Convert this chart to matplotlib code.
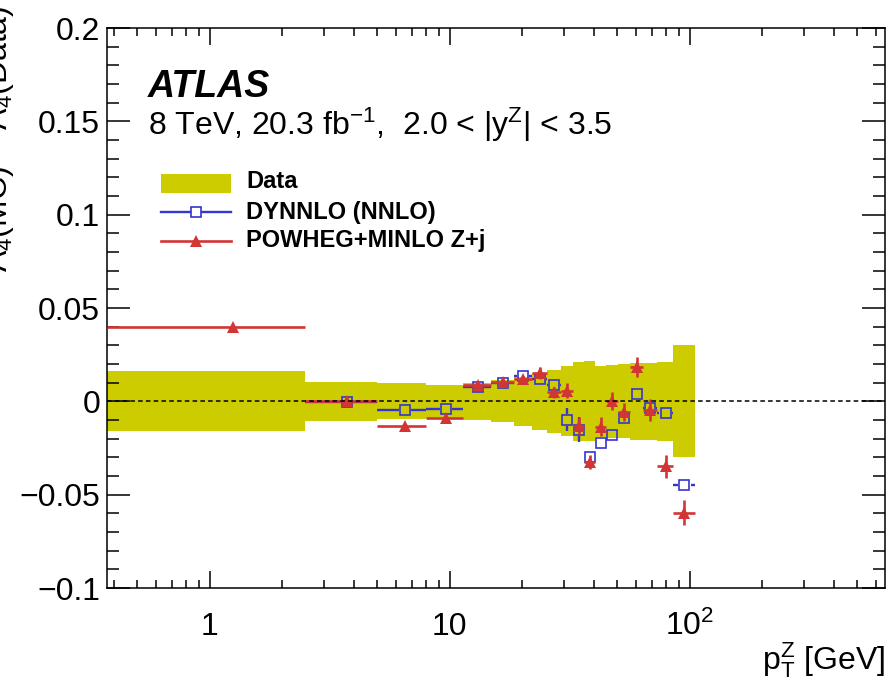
import numpy as np
import matplotlib
matplotlib.use("Agg")
import matplotlib.pyplot as plt
from matplotlib.ticker import FixedLocator, FixedFormatter, LogLocator, NullFormatter, MultipleLocator
from matplotlib.patches import Rectangle
from matplotlib.lines import Line2D
from matplotlib.collections import LineCollection

# ---------------- data ----------------
# pT(Z) bin edges [GeV]
bin_edges = [0.0, 2.5, 5.0, 8.0, 11.4, 14.9, 18.5, 22.0, 25.5, 29.0, 32.6,
             36.4, 40.4, 44.9, 50.2, 56.4, 63.9, 73.4, 85.4, 105.0]

# total uncertainty of the measured A4 (half width of the band)
data_unc = [0.016, 0.0105, 0.0097, 0.0090, 0.0098, 0.0112, 0.0132, 0.0152,
            0.0170, 0.0187, 0.0210, 0.0215, 0.0190, 0.0195, 0.0198, 0.0205,
            0.0205, 0.0210, 0.0300]

# A4(MC) - A4(Data), DYNNLO (NNLO)
dynnlo_diff = [np.nan, -0.0003, -0.0048, -0.0043, 0.0077, 0.0100, 0.0137, 0.0118,
               0.0087, -0.0098, -0.0152, -0.0298, -0.0221, -0.0182, -0.0087,
               0.0037, -0.0038, -0.0060, -0.0450]
dynnlo_err = [np.nan, 0.0008, 0.0008, 0.0008, 0.0010, 0.0010, 0.0012, 0.0012,
              0.0015, 0.0060, 0.0066, 0.0020, 0.0015, 0.0015, 0.0015,
              0.0015, 0.0015, 0.0015, 0.0015]

# A4(MC) - A4(Data), POWHEG+MINLO Z+j
powheg_diff = [0.0400, 0.0003, -0.0133, -0.0090, 0.0088, 0.0105, 0.0118, 0.0152,
               0.0048, 0.0058, -0.0130, -0.0325, -0.0135, 0.0002, -0.0058,
               0.0183, -0.0045, -0.0348, -0.0597]
powheg_err = [0.0005, 0.0006, 0.0008, 0.0010, 0.0012, 0.0015, 0.0020, 0.0030,
              0.0030, 0.0038, 0.0045, 0.0040, 0.0050, 0.0050, 0.0050,
              0.0054, 0.0058, 0.0062, 0.0067]

y_ticks = [-0.1, -0.05, 0.0, 0.05, 0.1, 0.15, 0.2]
y_tick_labels = ["\u22120.1", "\u22120.05", "0", "0.05", "0.1", "0.15", "0.2"]
x_ticks = [1, 10, 100]
x_tick_labels = ["1", "10", "$10^{2}$"]

XLIM = (0.374, 652.0)
YLIM = (-0.1, 0.2)

# ---------------- style ----------------
plt.rcParams["font.family"] = ["Liberation Sans", "DejaVu Sans"]
plt.rcParams["mathtext.fontset"] = "custom"
plt.rcParams["mathtext.rm"] = "Liberation Sans"
plt.rcParams["mathtext.it"] = "Liberation Sans:italic"
plt.rcParams["mathtext.bf"] = "Liberation Sans:bold"
plt.rcParams["mathtext.default"] = "regular"
plt.rcParams["lines.scale_dashes"] = False

YELLOW = "#cccc00"
BLUE = "#3535cf"
RED = "#d33434"

W, H = 889, 689
fig = plt.figure(figsize=(W / 100, H / 100), dpi=100)
ax = fig.add_axes([107 / W, (H - 588) / H, 778 / W, 560 / H])
ax.set_xscale("log")
ax.set_xlim(*XLIM)
ax.set_ylim(*YLIM)

edges = np.array(bin_edges)
lo = np.maximum(edges[:-1], XLIM[0])
hi = edges[1:]
centres = 0.5 * (edges[:-1] + edges[1:])
unc = np.array(data_unc)

# data uncertainty band around zero
ax.bar(lo, 2 * unc, width=hi - lo, bottom=-unc, align="edge",
       color=YELLOW, edgecolor="none", linewidth=0, zorder=1)

# zero line
ax.axhline(0.0, color="black", lw=1.1, dashes=(3.3, 2.3), zorder=5)


def hollow_errorbars(x, y, xl, xh, ye, ms_pt, mew_pt, color, lw, z):
    """Error bars that stop at the edge of an open marker."""
    half = (ms_pt / 2 + mew_pt / 2) * fig.dpi / 72.0
    to_disp = ax.transData.transform
    to_data = ax.transData.inverted().transform
    segs = []
    for xi, yi, a, b, e in zip(x, y, xl, xh, ye):
        if np.isnan(yi):
            continue
        cx, cy = to_disp((xi, yi))
        ax_l = to_disp((a, yi))[0]
        ax_h = to_disp((b, yi))[0]
        cy_l = to_disp((xi, yi - e))[1]
        cy_h = to_disp((xi, yi + e))[1]
        if ax_l < cx - half:
            segs.append([to_data((ax_l, cy)), to_data((cx - half, cy))])
        if ax_h > cx + half:
            segs.append([to_data((cx + half, cy)), to_data((ax_h, cy))])
        if cy_l < cy - half:
            segs.append([to_data((cx, cy_l)), to_data((cx, cy - half))])
        if cy_h > cy + half:
            segs.append([to_data((cx, cy + half)), to_data((cx, cy_h))])
    ax.add_collection(LineCollection(segs, colors=color, linewidths=lw, zorder=z,
                                     capstyle="butt"))


# DYNNLO: open squares
SQ_MS, SQ_MEW = 7.6, 1.2
dy = np.array(dynnlo_diff)
hollow_errorbars(centres, dy, lo, hi, np.array(dynnlo_err), SQ_MS, SQ_MEW, BLUE, 1.7, 2)
ax.plot(centres, dy, ls="none", marker="s", ms=SQ_MS, mew=SQ_MEW,
        mec=BLUE, mfc="none", zorder=2.1)

# POWHEG+MINLO: filled triangles
py = np.array(powheg_diff)
ax.errorbar(centres, py, xerr=[centres - lo, hi - centres], yerr=powheg_err,
            fmt="^", color=RED, ms=8.8, mew=0, elinewidth=1.9, capsize=0, zorder=3)

# ---------------- axes ----------------
ax.xaxis.set_major_locator(FixedLocator(x_ticks))
ax.xaxis.set_major_formatter(FixedFormatter(x_tick_labels))
ax.xaxis.set_minor_locator(LogLocator(base=10, subs=np.arange(2, 10), numticks=30))
ax.xaxis.set_minor_formatter(NullFormatter())
ax.yaxis.set_major_locator(FixedLocator(y_ticks))
ax.yaxis.set_major_formatter(FixedFormatter(y_tick_labels))
ax.yaxis.set_minor_locator(MultipleLocator(0.01))

for s in ax.spines.values():
    s.set_linewidth(1.1)
ax.tick_params(which="both", direction="in", top=True, right=True, width=1.1)
ax.tick_params(axis="x", which="major", length=12.2, pad=34, labelsize=23)
ax.tick_params(axis="x", which="minor", length=6.1)
ax.tick_params(axis="y", which="major", length=16.6, pad=5, labelsize=23)
ax.tick_params(axis="y", which="minor", length=8.4)
for lab in ax.get_xticklabels():
    lab.set_verticalalignment("baseline")

ax.set_xlabel(r"$\mathregular{p_{T}^{Z}}$ [GeV]", fontsize=23, ha="right", va="baseline")
ax.xaxis.set_label_coords(1.0, (588 - 669) / 560)
# the y title sits against the left edge of the canvas
ax.set_ylabel(r"A$_{4}$(MC) $-$ A$_{4}$(Data)", fontsize=23, ha="right", va="bottom")
ax.yaxis.set_label_coords((16 - 107) / 778, (588 - 6) / 560)

# ---------------- labels ----------------
ax.text((148 - 107) / 778, (588 - 97) / 560, "ATLAS", transform=ax.transAxes,
        fontsize=27, fontweight="bold", fontstyle="italic", va="baseline")
ax.text((148 - 107) / 778, (588 - 135) / 560,
        r"8 TeV, 20.3 fb$^{-1}$,  2.0 < |y$^{Z}$| < 3.5", transform=ax.transAxes,
        fontsize=23, va="baseline")

# legend
def axx(px):
    return (px - 107) / 778


def axy(py_):
    return (588 - py_) / 560


leg_x0, leg_x1 = axx(161), axx(231)
leg_xm = 0.5 * (leg_x0 + leg_x1)
ax.add_patch(Rectangle((leg_x0, axy(193)), leg_x1 - leg_x0, axy(174) - axy(193),
                       transform=ax.transAxes, color=YELLOW, lw=0, zorder=6))
ax.text(axx(246), axy(182), "Data", transform=ax.transAxes, fontsize=17,
        fontweight="bold", va="center", zorder=6)

gap = (SQ_MS / 2 + SQ_MEW / 2) * 100 / 72 / 778
row = axy(212)
ax.add_line(Line2D([leg_x0, leg_xm - gap], [row, row], transform=ax.transAxes,
                   color=BLUE, lw=1.7, zorder=6))
ax.add_line(Line2D([leg_xm + gap, leg_x1], [row, row], transform=ax.transAxes,
                   color=BLUE, lw=1.7, zorder=6))
ax.add_line(Line2D([leg_xm], [row], transform=ax.transAxes, ls="none", marker="s",
                   ms=SQ_MS, mew=SQ_MEW, mec=BLUE, mfc="none", zorder=6))
ax.text(axx(246), row, "DYNNLO (NNLO)", transform=ax.transAxes, fontsize=17,
        fontweight="bold", va="center", zorder=6)

row = axy(241)
ax.add_line(Line2D([leg_x0, leg_x1], [row, row], transform=ax.transAxes,
                   color=RED, lw=1.9, zorder=6))
ax.add_line(Line2D([leg_xm], [row], transform=ax.transAxes, ls="none", marker="^",
                   ms=8.8, mew=0, color=RED, zorder=6))
ax.text(axx(246), row, "POWHEG+MINLO Z+j", transform=ax.transAxes, fontsize=17,
        fontweight="bold", va="center", zorder=6)

fig.savefig("out.png", dpi=100)
